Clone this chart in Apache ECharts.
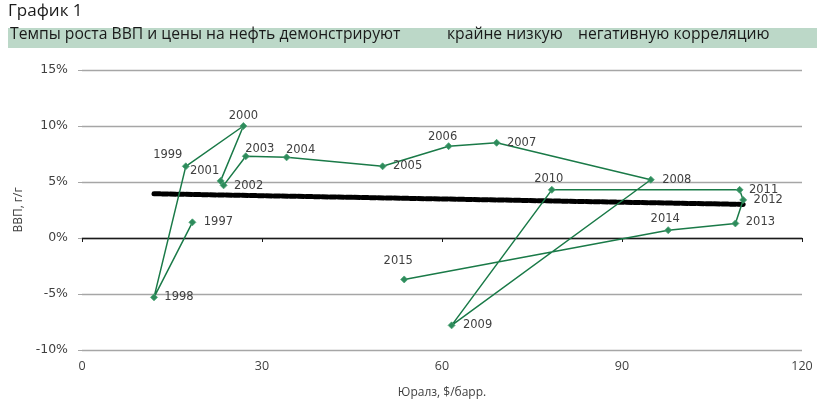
<!DOCTYPE html>
<html>
<head>
<meta charset="utf-8">
<script src="https://cdn.jsdelivr.net/npm/echarts@6/dist/echarts.min.js"></script>
<style>
  html, body { margin: 0; padding: 0; background: #fff; }
  #chart { width: 817px; height: 404px; }
</style>
</head>
<body>
<div id="chart"></div>
<script>
// Годы наблюдений
const years = ['1997','1998','1999','2000','2001','2002','2003','2004','2005','2006',
               '2007','2008','2009','2010','2011','2012','2013','2014','2015'];
// Средняя цена Юралз, $/барр.
const uralsPrice = [18.4, 12.0, 17.3, 26.9, 23.1, 23.6, 27.3, 34.1, 50.1, 61.1,
                    69.1, 94.8, 61.6, 78.3, 109.6, 110.2, 108.9, 97.7, 53.7];
// Рост ВВП, % г/г
const gdpGrowth = [1.4, -5.3, 6.4, 10.0, 5.1, 4.7, 7.3, 7.2, 6.4, 8.2,
                   8.5, 5.2, -7.8, 4.3, 4.3, 3.4, 1.3, 0.7, -3.7];
// Линейный тренд: начало и конец
const trendStart = [12.0, 3.95];
const trendEnd = [110.2, 3.0];
// Деления осей
const xTicks = [0, 30, 60, 90, 120];
const yTicks = [-10, -5, 0, 5, 10, 15];

// Смещения подписей годов относительно маркеров (px)
const labelOffsets = [
  [26, 0], [25, 0], [-18, -11], [0, -10], [-16, -10], [25, 1], [14, -7], [14, -7],
  [25, 0], [-6, -9], [25, 0], [26, 0], [26, 0], [-3, -11], [24, 0], [25, 0],
  [25, -1], [-3, -11], [-6, -18]
];

const points = years.map((y, i) => ({
  value: [uralsPrice[i], gdpGrowth[i]],
  label: {
    show: true,
    formatter: y,
    position: 'inside',
    offset: labelOffsets[i],
    align: 'center',
    verticalAlign: 'middle',
    color: '#404040',
    fontSize: 11.5,
    fontFamily: 'DejaVu Sans'
  }
}));

const chart = echarts.init(document.getElementById('chart'), null, { renderer: 'canvas' });

const headFont = '15.7px "Open Sans"';

chart.setOption({
  animation: false,
  backgroundColor: '#ffffff',
  textStyle: { fontFamily: 'DejaVu Sans' },
  graphic: [
    { type: 'text', left: 8, top: 3, style: { text: 'График 1', font: '17px "Open Sans"', fill: '#1a1a1a' } },
    { type: 'rect', shape: { x: 8, y: 28, width: 809, height: 20 }, style: { fill: '#bcd8c8' } },
    { type: 'text', left: 10, top: 27, style: { text: 'Темпы роста ВВП и цены на нефть демонстрируют', font: headFont, fill: '#1a1a1a' } },
    { type: 'text', left: 447, top: 27, style: { text: 'крайне низкую', font: headFont, fill: '#1a1a1a' } },
    { type: 'text', left: 578, top: 27, style: { text: 'негативную корреляцию', font: headFont, fill: '#1a1a1a' } }
  ],
  grid: { left: 82, right: 15, top: 70, bottom: 43, containLabel: false },
  xAxis: [
    {
      type: 'value', min: xTicks[0], max: xTicks[xTicks.length - 1], interval: 30,
      position: 'bottom',
      axisLine: { show: true, onZero: true, lineStyle: { color: '#1a1a1a', width: 1.3 } },
      axisTick: { show: true, length: 4, lineStyle: { color: '#1a1a1a' } },
      axisLabel: { show: false },
      splitLine: { show: false }
    },
    {
      type: 'value', min: xTicks[0], max: xTicks[xTicks.length - 1], interval: 30,
      position: 'bottom',
      axisLine: { show: false, onZero: false },
      axisTick: { show: false },
      axisLabel: { show: true, margin: 10, color: '#404040', fontSize: 12.5, fontFamily: 'Open Sans' },
      splitLine: { show: false },
      name: 'Юралз, $/барр.',
      nameLocation: 'middle',
      nameGap: 37,
      nameTextStyle: { color: '#404040', fontSize: 12, fontFamily: 'Open Sans' }
    }
  ],
  yAxis: {
    type: 'value', min: yTicks[0], max: yTicks[yTicks.length - 1], interval: 5,
    axisLine: { show: false },
    axisTick: { show: true, length: 4, lineStyle: { color: '#a6a6a6' } },
    axisLabel: { margin: 14, color: '#404040', fontSize: 12.5, formatter: '{value}%' },
    splitLine: { show: true, lineStyle: { color: '#a6a6a6', width: 1.3 } },
    name: 'ВВП, г/г',
    nameLocation: 'middle',
    nameGap: 54,
    nameRotate: 90,
    nameTextStyle: { color: '#404040', fontSize: 12, fontFamily: 'Open Sans' }
  },
  series: [
    {
      type: 'line',
      xAxisIndex: 0,
      data: [trendStart, trendEnd],
      symbol: 'none',
      lineStyle: { color: '#000', width: 5, type: [6, 2], cap: 'round' },
      z: 1,
      silent: true
    },
    {
      type: 'line',
      xAxisIndex: 0,
      data: points,
      symbol: 'diamond',
      symbolSize: 7,
      itemStyle: { color: '#2e8b5c', borderColor: '#4aa374', borderWidth: 0.8 },
      lineStyle: { color: '#1a7a48', width: 1.5 },
      z: 3
    }
  ]
});
</script>
</body>
</html>
